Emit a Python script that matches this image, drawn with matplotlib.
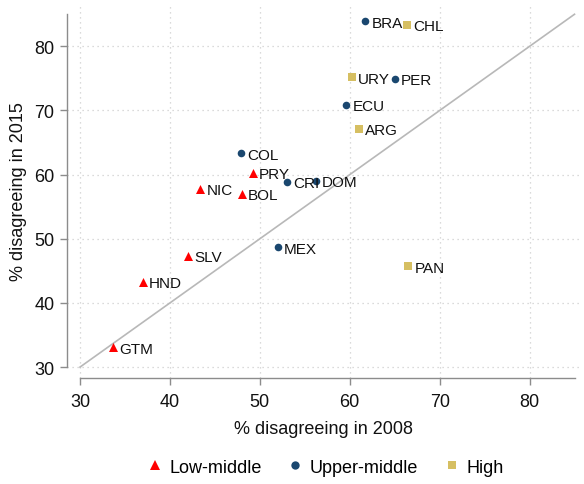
"""
Scatter of % disagreeing in 2008 vs 2015 by country, grouped by income level.
"""

import matplotlib
matplotlib.use("Agg")
import matplotlib.pyplot as plt
from matplotlib.lines import Line2D

plt.rcParams['font.family'] = ['Liberation Sans', 'DejaVu Sans']

#--------------------------------------------------------------
# data: (country, 2008, 2015)
#--------------------------------------------------------------
low_names = ["GTM", "HND", "SLV", "NIC", "BOL", "PRY"]
low_2008 = [33.7, 37.0, 42.0, 43.4, 48.0, 49.2]
low_2015 = [33.1, 43.3, 47.3, 57.8, 57.0, 60.3]

upper_names = ["MEX", "COL", "CRI", "DOM", "ECU", "PER", "BRA"]
upper_2008 = [52.0, 47.9, 53.0, 56.2, 59.6, 65.0, 61.7]
upper_2015 = [48.7, 63.3, 58.9, 59.0, 70.9, 74.9, 83.9]

high_names = ["PAN", "ARG", "URY", "CHL"]
high_2008 = [66.5, 61.0, 60.2, 66.4]
high_2015 = [45.7, 67.1, 75.2, 83.4]

groups = ["Low-middle", "Upper-middle", "High"]
ticks = [30, 40, 50, 60, 70, 80]

red = "#ff0000"
navy = "#1a476f"
sand = "#d6bf62"
axis_gray = "#8c8c8c"
txt = "#111111"

fig = plt.figure(figsize=(5.84, 4.85), dpi=100)
ax = fig.add_axes([0.1147, 0.2186, 0.8783, 0.7711])

ax.set_xlim(28.55, 85.6)
ax.set_ylim(28.3, 86.6)

# dotted grid
for t in ticks:
    ax.axvline(t, color="#cfcfcf", lw=0.9, ls=(0, (1, 3)), zorder=0)
    ax.axhline(t, color="#cfcfcf", lw=0.9, ls=(0, (1, 3)), zorder=0)

# 45 degree line
ax.plot([30, 85], [30, 85], color="#b8b8b8", lw=1.2, zorder=1)

ax.scatter(low_2008, low_2015, marker="^", s=42, color=red, lw=0, zorder=3)
ax.scatter(upper_2008, upper_2015, marker="o", s=30, color=navy, lw=0, zorder=3)
ax.scatter(high_2008, high_2015, marker="s", s=34, color=sand, lw=0, zorder=3)

# country labels to the right of each marker
for names, xs, ys in [(low_names, low_2008, low_2015),
                      (upper_names, upper_2008, upper_2015),
                      (high_names, high_2008, high_2015)]:
    for n, x, y in zip(names, xs, ys):
        ax.annotate(n, (x, y), xytext=(4.5, -1), textcoords="offset points",
                    ha="left", va="center", fontsize=11, color=txt,
                    zorder=4)

#---------------------------------
# axes styling
#---------------------------------
for side in ["top", "right"]:
    ax.spines[side].set_visible(False)
for side in ["left", "bottom"]:
    ax.spines[side].set_color(axis_gray)
    ax.spines[side].set_linewidth(1.0)
ax.spines["left"].set_bounds(30, 85)
ax.spines["bottom"].set_bounds(30, 85)

ax.set_xticks(ticks)
ax.set_yticks(ticks)
ax.tick_params(axis="both", length=5, width=1.0, color=axis_gray,
               labelsize=13, labelcolor=txt)
ax.tick_params(axis="x", pad=6)
ax.tick_params(axis="y", pad=4)
ax.set_xlabel("% disagreeing in 2008", fontsize=13, color=txt, labelpad=7)
ax.set_ylabel("% disagreeing in 2015", fontsize=13, color=txt, labelpad=5)

handles = [
    Line2D([], [], marker="^", ls="", color=red, markersize=7, mew=0),
    Line2D([], [], marker="o", ls="", color=navy, markersize=6, mew=0),
    Line2D([], [], marker="s", ls="", color=sand, markersize=6, mew=0),
]
fig.legend(handles, groups, loc="center", bbox_to_anchor=(0.556, 0.035),
           ncol=3, frameon=False, fontsize=13, handletextpad=0.3,
           columnspacing=1.35, handlelength=1.0)

fig.savefig("out.png", dpi=100)
